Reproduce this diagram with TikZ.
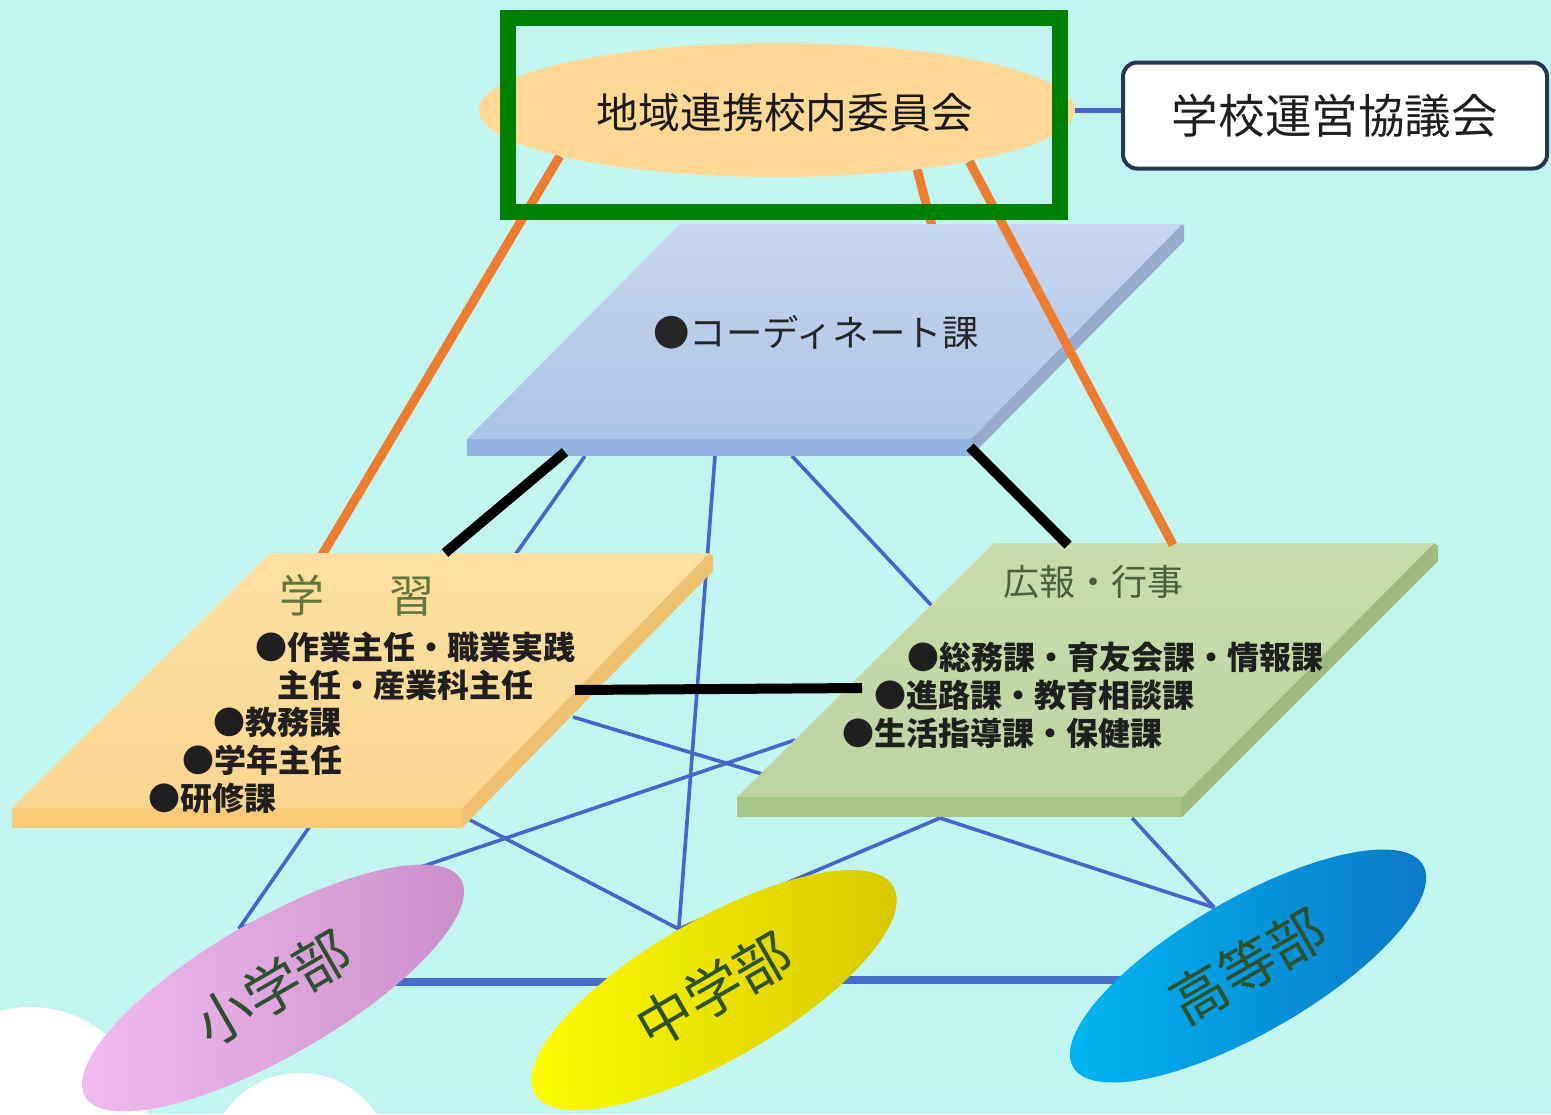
\documentclass[tikz,border=0pt]{standalone}
\usepackage{fontspec}
\usetikzlibrary{shapes.geometric}
\newfontfamily\jp{Noto Sans CJK JP}
\definecolor{bg}{RGB}{195,245,240}
\definecolor{orangeln}{RGB}{237,125,49}
\definecolor{blueln}{RGB}{72,100,200}
\definecolor{bluethick}{RGB}{68,110,200}
\definecolor{topfill}{RGB}{255,216,150}
\definecolor{navy}{RGB}{40,55,80}
\definecolor{gframe}{RGB}{0,128,0}
\definecolor{olive}{RGB}{95,120,65}
\definecolor{olivedk}{RGB}{75,95,60}
\definecolor{lbltext}{RGB}{45,80,45}
\definecolor{bpA}{RGB}{198,214,238}
\definecolor{bpB}{RGB}{172,196,232}
\definecolor{bpStrip}{RGB}{148,178,224}
\definecolor{bpSide}{RGB}{150,170,205}
\definecolor{lpA}{RGB}{253,224,160}
\definecolor{lpB}{RGB}{251,214,145}
\definecolor{lpStrip}{RGB}{250,203,118}
\definecolor{lpSide}{RGB}{238,194,112}
\definecolor{gpA}{RGB}{200,220,172}
\definecolor{gpB}{RGB}{190,212,162}
\definecolor{gpStrip}{RGB}{166,198,136}
\definecolor{gpSide}{RGB}{158,186,128}
\definecolor{pinkA}{RGB}{242,188,242}
\definecolor{pinkB}{RGB}{202,142,202}
\definecolor{yelA}{RGB}{255,255,0}
\definecolor{yelB}{RGB}{214,198,0}
\definecolor{cyA}{RGB}{0,184,242}
\definecolor{cyB}{RGB}{12,118,198}
\pgfdeclarelayer{back}
\pgfdeclarelayer{lines}
\pgfdeclarelayer{front}
\pgfsetlayers{back,lines,main,front}
\tikzset{
  thinln/.style={blueln, line width=1.8pt},
  thickbl/.style={bluethick, line width=4pt},
  blackln/.style={black, line width=5pt},
  orln/.style={orangeln, line width=4.5pt},
  bul/.style={anchor=west, inner sep=0pt, text=black!88, font=\jp\bfseries\fontsize{16}{18}\selectfont},
  dept/.style={ellipse, rotate=30, inner sep=0pt, text=lbltext, font=\jp\fontsize{28}{30}\selectfont},
}
\begin{document}
\begin{tikzpicture}[x=0.5pt,y=-0.5pt]
\useasboundingbox (0,0) rectangle (1551,1114);
\begin{pgfonlayer}{back}
  \fill[bg] (0,0) rectangle (1551,1114);
  \begin{scope}
    \clip (0,0) rectangle (1551,1114);
    \fill[white] (30,1125) circle[radius=59pt];
    \fill[white] (300,1165) circle[radius=46pt];
  \end{scope}
\end{pgfonlayer}

% ---- blue plane (coordinate) ----
\fill[bpStrip] (467,439) -- (971,439) -- (971,456) -- (467,456) -- cycle;
\fill[bpSide] (971,439) -- (1182,224) -- (1184,226) -- (1184,241) -- (971,456) -- cycle;
\shade[top color=bpA, bottom color=bpB] (680,224) -- (1182,224) -- (971,439) -- (467,439) -- cycle;
% ---- left plane ----
\fill[lpStrip] (12,808) -- (462,808) -- (462,828) -- (12,828) -- cycle;
\fill[lpSide] (462,808) -- (709,553) -- (713,556) -- (713,571) -- (462,828) -- cycle;
\shade[top color=lpA, bottom color=lpB] (270,553) -- (709,553) -- (462,808) -- (12,808) -- cycle;
% ---- green plane ----
\fill[gpStrip] (737,797) -- (1182,797) -- (1182,817) -- (737,817) -- cycle;
\fill[gpSide] (1182,797) -- (1434,543) -- (1438,546) -- (1438,561) -- (1182,817) -- cycle;
\shade[top color=gpA, bottom color=gpB] (994,543) -- (1434,543) -- (1182,797) -- (737,797) -- cycle;

% ---- connection points ----
\coordinate (cB1) at (585,456);
\coordinate (cB2) at (715,456);
\coordinate (cB3) at (792,456);
\coordinate (cBk1) at (565,452);
\coordinate (cBk2) at (970,447);
\coordinate (bpO) at (933,230);
\coordinate (lP1) at (515,555);
\coordinate (lP2) at (573,717);
\coordinate (lP3) at (310,826);
\coordinate (lP4) at (470,820);
\coordinate (lPk1) at (445,553);
\coordinate (lPk2) at (575,690);
\coordinate (lPo) at (322,555);
\coordinate (gP1) at (932,606);
\coordinate (gP2) at (762,774);
\coordinate (gP3) at (795,740);
\coordinate (gP4) at (940,818);
\coordinate (gP5) at (1132,818);
\coordinate (gPk1) at (1068,545);
\coordinate (gPk2) at (862,688);
\coordinate (gPo) at (1173,545);
\coordinate (hy1) at (0,982);
\coordinate (hy2) at (0,980);

% ---- plane texts ----
\node[font=\jp\fontsize{18.2}{20}\selectfont, text=black!85] (coord) at (816,332) {●コーディネート課};
\node[font=\jp\fontsize{22.5}{24}\selectfont, text=olive] (gaku) at (357,595) {学\hspace{1.45em}習};
\node[bul] (l1) at (255,647) {●作業主任・職業実践};
\node[bul] (l2) at (277,685) {主任・産業科主任};
\node[bul] (l3) at (213,722) {●教務課};
\node[bul] (l4) at (182,760) {●学年主任};
\node[bul] (l5) at (148,798) {●研修課};
\node[font=\jp\fontsize{18}{20}\selectfont, text=olivedk] (koho) at (1093,582) {広報・行事};
\node[bul] (r1) at (907,657) {●総務課・育友会課・情報課};
\node[bul] (r2) at (874,695) {●進路課・教育相談課};
\node[bul] (r3) at (842,733) {●生活指導課・保健課};

% ---- department ellipses ----
\node[dept, minimum width=217pt, minimum height=68pt, left color=pinkA, right color=pinkB] (sho) at (273,988) {小学部};
\node[dept, minimum width=207pt, minimum height=70pt, left color=yelA, right color=yelB] (chu) at (714,990) {中学部};
\node[dept, minimum width=202pt, minimum height=67pt, left color=cyA, right color=cyB] (kou) at (1248,966) {高等部};

% ---- top ----
\node[ellipse, fill=topfill, minimum width=298pt, minimum height=67pt, inner sep=0pt] (top) at (777,110) {};
\node[font=\jp\fontsize{20.9}{23}\selectfont, text=black!90] (toptxt) at (785,113) {地域連携校内委員会};
\node[draw=navy, line width=2pt, fill=white, rounded corners=7pt, minimum width=212pt, minimum height=53pt, inner sep=0pt,
      font=\jp\fontsize{23.3}{25}\selectfont, text=black!88] (box) at (1335,115.5) {学校運営協議会};

% ---- connectors behind ----
\begin{pgfonlayer}{lines}
  \draw[thinln] (cB1) -- (lP1);
  \draw[thinln] (cB2) -- (chu.north);
  \draw[thinln] (cB3) -- (gP1);
  \draw[thinln] (lP2) -- (gP2);
  \draw[thinln] (sho.north) -- (gP3);
  \draw[thinln] (lP3) -- (sho.north);
  \draw[thinln] (lP4) -- (chu.north);
  \draw[thinln] (chu.north) -- (gP4);
  \draw[thinln] (gP4) -- (kou.north);
  \draw[thinln] (gP5) -- (kou.north);
  \draw[orln] (top.192.5) -- (lPo);
  \draw[orln] (top.337.6) -- (bpO);
  \draw[thickbl] (sho.center |- hy1) -- (chu.center |- hy1);
  \draw[thickbl] (chu.center |- hy2) -- (kou.center |- hy2);
  \draw[blueln, line width=2.5pt] (top.east) -- (top.east -| box.west);
\end{pgfonlayer}

% ---- connectors in front ----
\begin{pgfonlayer}{front}
  \draw[blackln] (cBk1) -- (lPk1);
  \draw[blackln] (cBk2) -- (gPk1);
  \draw[blackln] (lPk2) -- (gPk2);
  \draw[orln] (top.345.3) -- (gPo);
  \draw[gframe, line width=8pt] (507.5,18) rectangle (1059.5,211.5);
\end{pgfonlayer}
\end{tikzpicture}
\end{document}
